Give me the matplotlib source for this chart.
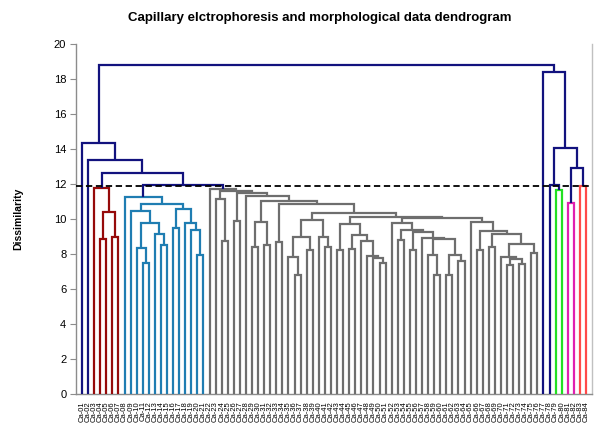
import matplotlib
matplotlib.use("Agg")
import matplotlib.pyplot as plt

# ---------------- data ----------------
title = "Capillary elctrophoresis and morphological data dendrogram"
ylabel = "Dissimilarity"
y_ticks = [0, 2, 4, 6, 8, 10, 12, 14, 16, 18, 20]
cut_level = 11.9

leaf_labels = [
    "Ca-01", "Ca-02", "Ca-03", "Ca-04", "Ca-05", "Ca-06", "Ca-07", "Ca-08", "Ca-09", "Ca-10",
    "Ca-11", "Ca-12", "Ca-13", "Ca-14", "Ca-15", "Ca-16", "Ca-17", "Ca-18", "Ca-19", "Ca-20",
    "Ca-21", "Ca-22", "Ca-23", "Ca-24", "Ca-25", "Ca-26", "Ca-27", "Ca-28", "Ca-29", "Ca-30",
    "Ca-31", "Ca-32", "Ca-33", "Ca-34", "Ca-35", "Ca-36", "Ca-37", "Ca-38", "Ca-39", "Ca-40",
    "Ca-41", "Ca-42", "Ca-43", "Ca-44", "Ca-45", "Ca-46", "Ca-47", "Ca-48", "Ca-49", "Ca-50",
    "Ca-51", "Ca-52", "Ca-53", "Ca-54", "Ca-55", "Ca-56", "Ca-57", "Ca-58", "Ca-59", "Ca-60",
    "Ca-61", "Ca-62", "Ca-63", "Ca-64", "Ca-65", "Ca-66", "Ca-67", "Ca-68", "Ca-69", "Ca-70",
    "Ca-71", "Ca-72", "Ca-73", "Ca-74", "Ca-75", "Ca-76", "Ca-77", "Ca-78", "Ca-79", "Ca-80",
    "Ca-81", "Ca-82", "Ca-83", "Ca-84",
]

cluster_colors = {
    "outlier": "#12127E",
    "red": "#960A0A",
    "blue": "#1F7DB2",
    "gray": "#6E6E6E",
    "green": "#22E022",
    "magenta": "#E020B0",
    "salmon": "#FF4A4A",
}
leaf_cluster = (["outlier"] * 2 + ["red"] * 5 + ["blue"] * 14 + ["gray"] * 55
                + ["outlier"] * 2 + ["green"] * 2 + ["magenta"] * 2 + ["salmon"] * 2)

# merges: nested (left, right, height); leaves are integer indices
red_tree = (2, ((3, 4, 8.84), (5, 6, 9.0), 10.4), 11.8)

blue_tree = (7,
             ((8, ((9, (10, 11, 7.5), 8.34), (12, (13, 14, 8.5), 9.14), 9.79), 10.46),
              ((15, 16, 9.47), (17, (18, (19, 20, 7.94), 9.37), 9.75), 10.55),
              10.84),
             11.27)

# gray cluster, built from its sub-groups
g_a = (22, (23, 24, 8.74), 11.12)
g_c = (25, 26, 9.9)
g_q3 = ((28, 29, 8.42), (30, 31, 8.51), 9.81)
g_p1 = (32, 33, 8.7)
g_r7 = (((34, (35, 36, 6.8), 7.85), (37, 38, 8.23), 9.0),
        (39, (40, 41, 8.38), 9.0), 9.94)
g_lft = ((42, 43, 8.23),
         ((44, 45, 8.29), (46, (47, (48, (49, 50, 7.47), 7.75), 7.89), 8.76), 9.07),
         9.71)
g_m = (51, ((52, 53, 8.8),
            ((54, 55, 8.23),
             (56, ((57, (58, 59, 6.8), 7.94), ((60, 61, 6.8), (62, 63, 7.62), 7.94), 8.85), 8.9),
             9.28),
            9.4),
       9.75)
g_n40 = (64, ((65, 66, 8.23),
              ((67, 68, 8.38),
               ((69, ((70, 71, 7.37), (72, 73, 7.43), 7.7), 7.81), (74, 75, 8.08), 8.6),
               9.14),
              9.33),
         9.85)
g_rgt = (g_m, g_n40, 10.04)
g_y = (g_r7, (g_lft, g_rgt, 10.13), 10.36)
g_x3 = (27, (g_q3, (g_p1, g_y, 10.84), 11.05), 11.31)
gray_tree = (21, (g_a, (g_c, g_x3, 11.5), 11.6), 11.69)

right_tree = (76, ((77, (78, 79, 11.66), 11.93), ((80, 81, 10.93), (82, 83, 11.86), 12.9), 14.08), 18.42)

root = ((0, (1, (red_tree, (blue_tree, gray_tree, 11.94), 12.65), 13.37), 14.32),
        right_tree, 18.8)

# ---------------- drawing ----------------
fig = plt.figure(figsize=(5.96, 4.29), dpi=100)
W, H = 596, 429
ax = fig.add_axes([76 / W, (H - 394) / H, (592 - 76) / W, (394 - 44) / H])
n_leaves = len(leaf_labels)
LW = 1.6


def leaves_of(node):
    if isinstance(node, int):
        return [node]
    return leaves_of(node[0]) + leaves_of(node[1])


def draw(node):
    """returns (x, y) of the node top"""
    if isinstance(node, int):
        return float(node), 0.0
    left, right, h = node
    xl, yl = draw(left)
    xr, yr = draw(right)
    groups = {leaf_cluster[i] for i in leaves_of(node)}
    col = cluster_colors[groups.pop()] if len(groups) == 1 else cluster_colors["outlier"]
    ax.plot([xl, xl, xr, xr], [yl, h, h, yr], color=col, lw=LW,
            solid_joinstyle="miter", solid_capstyle="butt", zorder=3)
    return (xl + xr) / 2.0, h


draw(root)

ax.axhline(cut_level, color="black", lw=1.3, ls=(0, (3.5, 2)), zorder=4)

ax.set_xlim(-1, n_leaves)
ax.set_ylim(0, 20)
ax.set_yticks(y_ticks)
ax.set_yticklabels([str(t) for t in y_ticks], fontsize=8, family="Liberation Sans")
ax.set_xticks(range(n_leaves))
ax.set_xticklabels(leaf_labels, rotation=90, fontsize=5.5, family="Liberation Sans")
ax.tick_params(axis="x", length=0, pad=5)
ax.tick_params(axis="y", length=4, width=0.8, color="#8C8C8C", direction="out", pad=3)
ax.spines["top"].set_visible(False)
ax.spines["left"].set_color("#8C8C8C")
ax.spines["bottom"].set_color("#8C8C8C")
ax.spines["right"].set_color("#C0C0C0")
for s in ["left", "bottom", "right"]:
    ax.spines[s].set_linewidth(1.0)

fig.text(320 / W, 1 - 18 / H, title, ha="center", va="center", fontsize=9.5,
         fontweight="bold", family="Liberation Sans")
fig.text(18 / W, 1 - 219 / H, ylabel, ha="center", va="center", rotation=90,
         fontsize=7.5, fontweight="bold", family="Liberation Sans")

fig.savefig("out.png", dpi=100)
